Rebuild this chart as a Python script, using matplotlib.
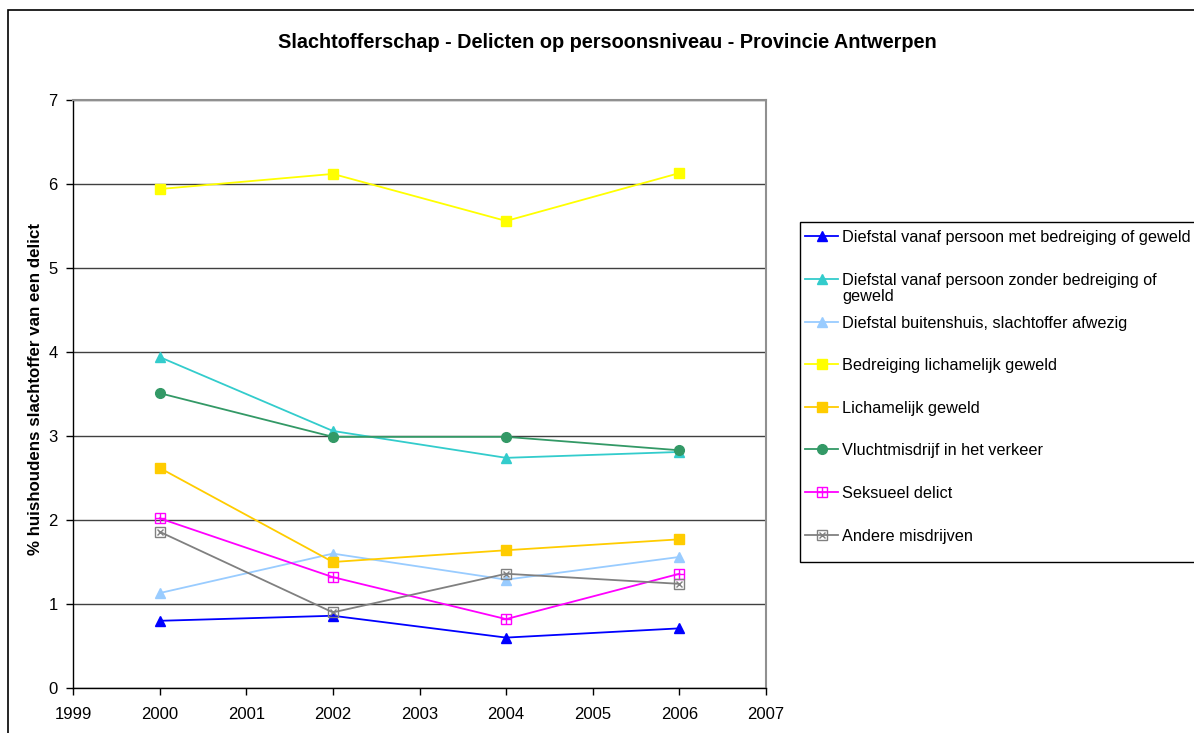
import matplotlib
matplotlib.use("Agg")
import matplotlib.pyplot as plt
from matplotlib.lines import Line2D
from matplotlib.patches import Rectangle

plt.rcParams['font.family'] = ['Liberation Sans', 'DejaVu Sans']

years = [2000, 2002, 2004, 2006]
labels = [
    "Diefstal vanaf persoon met bedreiging of geweld",
    "Diefstal vanaf persoon zonder bedreiging of\ngeweld",
    "Diefstal buitenshuis, slachtoffer afwezig",
    "Bedreiging lichamelijk geweld",
    "Lichamelijk geweld",
    "Vluchtmisdrijf in het verkeer",
    "Seksueel delict",
    "Andere misdrijven",
]
diefstal_met = [0.80, 0.86, 0.60, 0.71]
diefstal_zonder = [3.94, 3.06, 2.74, 2.81]
diefstal_buiten = [1.13, 1.60, 1.29, 1.56]
bedreiging = [5.94, 6.12, 5.56, 6.13]
lichamelijk = [2.62, 1.50, 1.64, 1.77]
vlucht = [3.51, 2.99, 2.99, 2.83]
seksueel = [2.02, 1.32, 0.82, 1.36]
andere = [1.86, 0.90, 1.36, 1.24]
series = [diefstal_met, diefstal_zonder, diefstal_buiten, bedreiging,
          lichamelijk, vlucht, seksueel, andere]

colors = ["#0000FF", "#33CCCC", "#99CCFF", "#FFFF00", "#FFCC00", "#339966", "#FF00FF", "#808080"]
markers = ["^", "^", "^", "s", "s", "o", "s", "s"]
inner = [None, None, None, None, None, None, "+", "x"]
filled = [True, True, True, True, True, True, False, False]

title = "Slachtofferschap - Delicten op persoonsniveau - Provincie Antwerpen"
ylabel = "% huishoudens slachtoffer van een delict"
xticks = list(range(1999, 2008))
yticks = list(range(0, 8))

W, H = 1194, 733
fig = plt.figure(figsize=(W / 100, H / 100), dpi=100)
ax = fig.add_axes([73 / W, (H - 688) / H, (766 - 73) / W, (688 - 100) / H])

def style_kw(i):
    kw = dict(color=colors[i], lw=1.3, marker=markers[i])
    if filled[i]:
        kw.update(markersize=7.5 if markers[i] != "o" else 7, markerfacecolor=colors[i],
                  markeredgecolor=colors[i])
    else:
        kw.update(markersize=7.5, markerfacecolor="none", markeredgecolor=colors[i], markeredgewidth=1)
    return kw

for i, vals in enumerate(series):
    ax.plot(years, vals, zorder=3 + i, **style_kw(i))
    if inner[i]:
        ax.plot(years, vals, ls="none", marker=inner[i], markersize=7 if inner[i] == "+" else 5,
                markeredgecolor=colors[i], markeredgewidth=1, zorder=3 + i)

ax.set_xlim(1999, 2007)
ax.set_ylim(0, 7)
ax.set_xticks(xticks)
ax.set_yticks(yticks)
ax.tick_params(axis="both", labelsize=12, direction="out", length=5, width=1, color="black")
ax.tick_params(axis="x", pad=9)
ax.tick_params(axis="y", pad=6)
ax.grid(axis="y", color="#404040", lw=1.0, zorder=1)
ax.set_axisbelow(True)
for s in ["top", "right"]:
    ax.spines[s].set_color("#909090")
    ax.spines[s].set_linewidth(1.5)
for s in ["left", "bottom"]:
    ax.spines[s].set_color("black")
    ax.spines[s].set_linewidth(1.0)

fig.text(607 / W, 1 - 43 / H, title, ha="center", va="center", fontsize=14.3, fontweight="bold")
fig.text(36 / W, 1 - 389 / H, ylabel, ha="center", va="center", rotation=90, fontsize=12.2, fontweight="bold")

# figure border
fig.add_artist(Rectangle((8 / W, -0.1), 1.2, 1 - 10 / H + 0.1, transform=fig.transFigure,
                         fill=False, edgecolor="black", lw=1.2, clip_on=False))

# legend box
ly_top, ly_bot = 222, 562
fig.add_artist(Rectangle((800 / W, 1 - ly_bot / H), 1.0, (ly_bot - ly_top) / H,
                         transform=fig.transFigure, facecolor="white", edgecolor="black",
                         lw=1.0, clip_on=False, zorder=10))
rows = [236, 279, 322, 364, 407, 449, 492, 535]
for i, (lab, yy) in enumerate(zip(labels, rows)):
    yf = 1 - yy / H
    kw = style_kw(i)
    line = Line2D([805 / W, 838 / W], [yf, yf], transform=fig.transFigure, color=colors[i], lw=1.3, zorder=11)
    fig.add_artist(line)
    mk = Line2D([821.5 / W], [yf], transform=fig.transFigure, ls="none", marker=markers[i],
                markersize=kw["markersize"], markerfacecolor=kw["markerfacecolor"],
                markeredgecolor=colors[i], markeredgewidth=1, zorder=12)
    fig.add_artist(mk)
    if inner[i]:
        fig.add_artist(Line2D([821.5 / W], [yf], transform=fig.transFigure, ls="none", marker=inner[i],
                              markersize=7 if inner[i] == "+" else 5, markeredgecolor=colors[i],
                              markeredgewidth=1, zorder=12))
    fig.text(842 / W, yf + 6 / H, lab, ha="left", va="top", fontsize=11.7, zorder=13, linespacing=1.1)

fig.savefig("out.png", dpi=100, facecolor="white")
